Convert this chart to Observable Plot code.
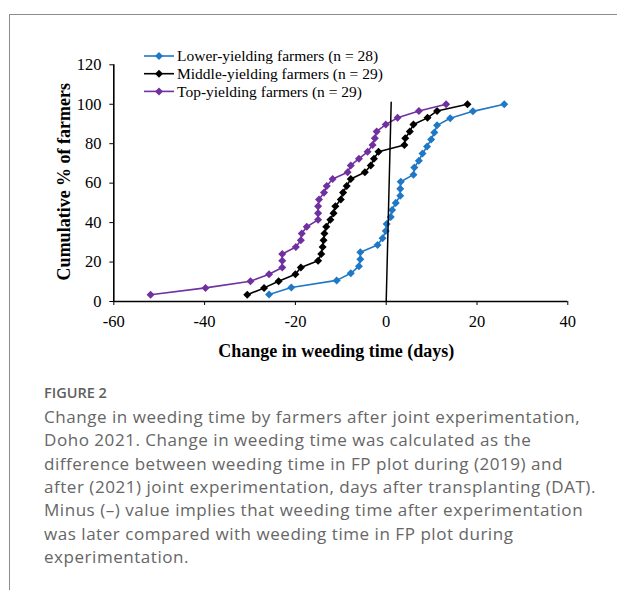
<!DOCTYPE html>
<html>
<head>
<meta charset="utf-8">
<script src="https://cdn.jsdelivr.net/npm/d3@7"></script>
<script src="https://cdn.jsdelivr.net/npm/@observablehq/plot@0.6"></script>
<style>
  html, body { margin: 0; padding: 0; background: #fff; }
  body { width: 617px; height: 590px; position: relative; overflow: hidden; }
  #frame { position: absolute; left: 9px; top: 14px; width: 700px; height: 700px;
           border-left: 1.4px solid #8c8c8c; border-top: 1.4px solid #8c8c8c; }
  #chart { position: absolute; left: 0; top: 0; }
  .cap { position: absolute; left: 44px; font-family: "Open Sans", sans-serif; color: #666; white-space: nowrap; }
  #fig { top: 383px; font-size: 14.5px; font-weight: 600; line-height: 20px; color: #5f5f5f; }
  #captext { top: 406px; font-size: 15.5px; line-height: 23.33px; letter-spacing: 0.47px;
             transform: scaleX(1.1); transform-origin: 0 0; }
</style>
</head>
<body>
<div id="frame"></div>
<div id="chart"></div>
<div class="cap" id="fig">FIGURE 2</div>
<div class="cap" id="captext"></div>
<script>
// ---- data ----
const seriesNames = ["Lower-yielding farmers (n = 28)", "Middle-yielding farmers (n = 29)", "Top-yielding farmers (n = 29)"];
const seriesColors = ["#1f78c6", "#000000", "#7030a0"];

const lowerX = [-25.8, -20.9, -10.9, -7.8, -6.0, -5.7, -5.7, -1.9, -0.8, -0.1, 0.1, 1.0, 1.3, 2.1, 3.1, 3.1, 3.2, 6.0, 6.2, 7.2, 8.0, 9.0, 9.9, 10.6, 11.2, 14.1, 19.1, 26.0];
const lowerY = [3.6, 7.1, 10.7, 14.3, 17.9, 21.4, 25.0, 28.6, 32.1, 35.7, 39.3, 42.9, 46.4, 50.0, 53.6, 57.1, 60.7, 64.3, 67.9, 71.4, 75.0, 78.6, 82.1, 85.7, 89.3, 92.9, 96.4, 100];

const middleX = [-30.6, -26.9, -23.7, -20.0, -18.8, -15.0, -14.3, -14.0, -13.8, -13.6, -13.2, -12.3, -11.6, -11.2, -10.0, -9.5, -8.7, -7.8, -4.7, -3.4, -2.7, -1.7, 4.0, 4.2, 5.2, 6.0, 9.1, 11.2, 17.9];
const middleY = [3.4, 6.9, 10.3, 13.8, 17.2, 20.7, 24.1, 27.6, 31.0, 34.5, 37.9, 41.4, 44.8, 48.3, 51.7, 55.2, 58.6, 62.1, 65.5, 69.0, 72.4, 75.9, 79.3, 82.8, 86.2, 89.7, 93.1, 96.6, 100];

const topX = [-51.9, -39.8, -29.9, -25.8, -22.9, -22.9, -22.9, -19.9, -18.8, -18.6, -17.5, -15.0, -15.0, -15.0, -14.8, -13.7, -13.1, -11.8, -8.5, -7.8, -6.0, -4.1, -3.0, -2.5, -2.1, -0.1, 2.5, 7.2, 13.2];
const topY = [3.4, 6.9, 10.3, 13.8, 17.2, 20.7, 24.1, 27.6, 31.0, 34.5, 37.9, 41.4, 44.8, 48.3, 51.7, 55.2, 58.6, 62.1, 65.5, 69.0, 72.4, 75.9, 79.3, 82.8, 86.2, 89.7, 93.1, 96.6, 100];

// hand-drawn zero reference line (slightly slanted in the original)
const zeroLineX = [0, 1.1];
const zeroLineY = [0, 101];

const xTicks = [-60, -40, -20, 0, 20, 40];
const yTicks = [0, 20, 40, 60, 80, 100, 120];

const xTitle = "Change in weeding time (days)";
const yTitle = "Cumulative % of farmers";

const captionLines = [
  "Change in weeding time by farmers after joint experimentation,",
  "Doho 2021. Change in weeding time was calculated as the",
  "difference between weeding time in FP plot during (2019) and",
  "after (2021) joint experimentation, days after transplanting (DAT).",
  "Minus (\u2013) value implies that weeding time after experimentation",
  "was later compared with weeding time in FP plot during",
  "experimentation."
];

// ---- build ----
const SERIF = "Liberation Serif";
const toRows = (xs, ys) => xs.map((x, i) => ({x, y: ys[i]}));
const series = [toRows(lowerX, lowerY), toRows(middleX, middleY), toRows(topX, topY)];

const diamond = {
  draw(ctx, size) {
    const h = Math.sqrt(size / 2);
    ctx.moveTo(0, -h); ctx.lineTo(h, 0); ctx.lineTo(0, h); ctx.lineTo(-h, 0); ctx.closePath();
  }
};

const x0 = xTicks[0], x1 = xTicks[xTicks.length - 1];
const y0 = yTicks[0], y1 = yTicks[yTicks.length - 1];

const marks = [];
series.forEach((rows, k) => {
  marks.push(Plot.line(rows, {x: "x", y: "y", stroke: seriesColors[k], strokeWidth: 1.6}));
  marks.push(Plot.dot(rows, {x: "x", y: "y", symbol: diamond, r: 3.2, fill: seriesColors[k], stroke: "none"}));
});
marks.push(Plot.line(zeroLineX.map((x, i) => ({x, y: zeroLineY[i]})), {x: "x", y: "y", stroke: "#000", strokeWidth: 1.5}));
// axis lines
marks.push(Plot.ruleX([x0], {y1: y0, y2: y1, stroke: "#000", strokeWidth: 1.6}));
marks.push(Plot.ruleY([y0], {x1: x0, x2: x1, stroke: "#000", strokeWidth: 1.6}));
// tick labels (serif)
marks.push(Plot.text(xTicks, {x: d => d, y: () => y0, text: d => String(d), dy: 20.5, textAnchor: "middle", lineAnchor: "middle",
  fontFamily: SERIF, fontSize: 16.5, fill: "#000"}));
marks.push(Plot.text(yTicks, {x: () => x0, y: d => d, text: d => String(d), dx: -12.3, textAnchor: "end", lineAnchor: "middle",
  fontFamily: SERIF, fontSize: 16.5, fill: "#000"}));
// axis titles
marks.push(Plot.text([xTitle], {frameAnchor: "bottom", textAnchor: "middle", lineAnchor: "middle", dy: 50, dx: -4.5,
  fontFamily: SERIF, fontWeight: "bold", fontSize: 18, fill: "#000"}));
marks.push(Plot.text([yTitle], {frameAnchor: "left", textAnchor: "middle", lineAnchor: "middle", rotate: -90, dx: -50, dy: -1.5,
  fontFamily: SERIF, fontWeight: "bold", fontSize: 18, fill: "#000"}));

const svg = Plot.plot({
  width: 617,
  height: 370,
  marginLeft: 113.3,
  marginRight: 49.7,
  marginTop: 64.3,
  marginBottom: 69,
  style: {fontFamily: SERIF, fontSize: "16.5px", color: "#000", background: "transparent", overflow: "visible"},
  x: {domain: [x0, x1], ticks: xTicks, tickSize: 4, tickFormat: () => "", label: null},
  y: {domain: [y0, y1], ticks: yTicks, tickSize: 4, tickFormat: () => "", label: null},
  marks
});

// legend
const lg = d3.select(svg).append("g").attr("class", "legend").attr("text-anchor", "start");
const sym = d3.symbol().type(diamond).size(32);
seriesNames.forEach((name, k) => {
  const cy = 56 + k * 17.7;
  const g = lg.append("g").attr("transform", `translate(0,${cy})`);
  g.append("line").attr("x1", 144).attr("x2", 174).attr("y1", 0).attr("y2", 0)
    .attr("stroke", seriesColors[k]).attr("stroke-width", 1.6);
  g.append("path").attr("d", sym()).attr("transform", "translate(159,0)").attr("fill", seriesColors[k]);
  g.append("text").attr("x", 177).attr("y", 0).attr("dy", "0.35em").attr("text-anchor", "start")
    .style("font-family", SERIF).style("font-size", "15.5px").attr("fill", "#000")
    .text(name);
});

document.getElementById("chart").appendChild(svg);

const cap = document.getElementById("captext");
captionLines.forEach(t => { const d = document.createElement("div"); d.textContent = t; cap.appendChild(d); });
</script>
</body>
</html>
